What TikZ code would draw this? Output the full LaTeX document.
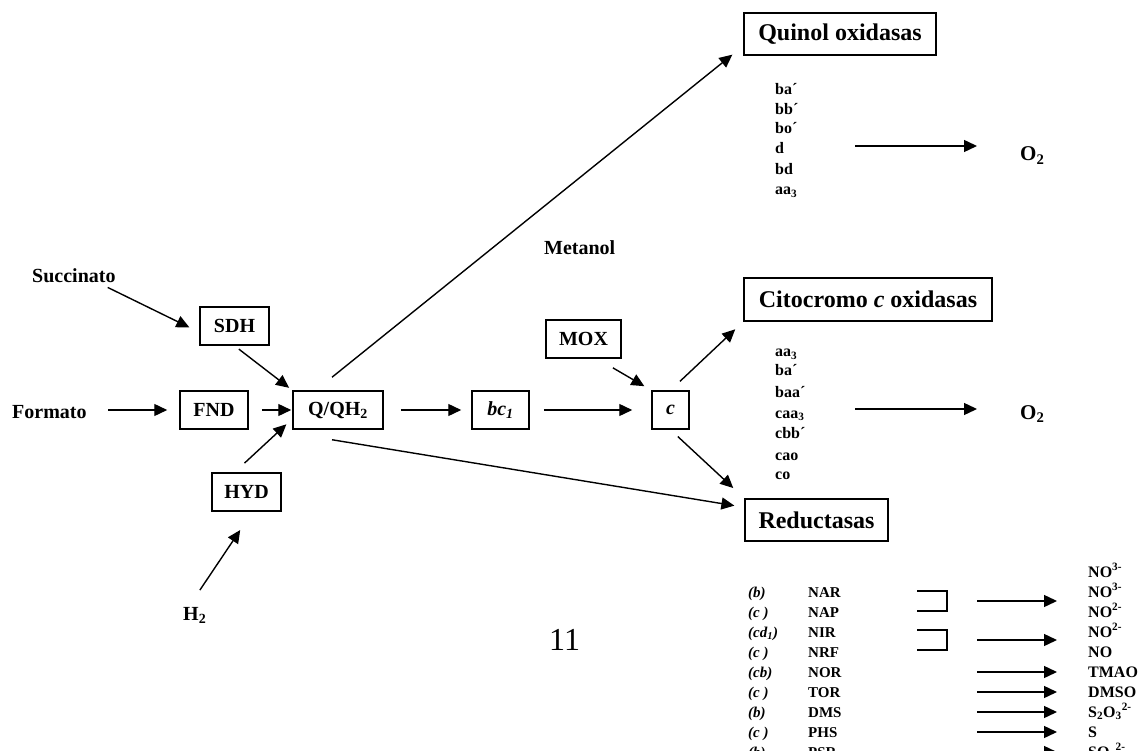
\documentclass[tikz,border=0pt]{standalone}
\usepackage{fontspec}
\setmainfont{Liberation Serif}
\usetikzlibrary{arrows.meta}
\newcommand\fsz[1]{\fontsize{#1}{#1}\selectfont}
\begin{document}
\begin{tikzpicture}[x=1pt,y=-1pt,
  box/.style={draw, line width=1.5pt, inner sep=0pt, minimum height=38pt, font=\fsz{20}\bfseries},
  bigbox/.style={draw, line width=1.5pt, inner sep=0pt, minimum height=42pt, font=\fsz{24}\bfseries},
  lbl/.style={inner sep=0pt, anchor=base west, font=\fsz{20}\bfseries},
  listitem/.style={inner sep=0pt, anchor=base west, font=\fsz{16}\bfseries},
  tleft/.style={inner sep=0pt, anchor=base west, font=\fsz{15}\bfseries\itshape},
  tname/.style={inner sep=0pt, anchor=base west, font=\fsz{15}\bfseries},
  tright/.style={inner sep=0pt, anchor=base west, font=\fsz{16}\bfseries},
  otwo/.style={inner sep=0pt, anchor=base west, font=\fsz{21}\bfseries},
  arr/.style={line width=1.4pt, -{Triangle[length=13pt,width=12pt]}},
  bracket/.style={line width=1.4pt}
  ]
\useasboundingbox (0,0) rectangle (1141,751);

% free labels
\node[lbl] (succ) at (32,283) {Succinato};
\node[lbl] (form) at (12,418) {Formato};
\node[lbl] (h2) at (183,620) {H\textsubscript{2}};
\node[lbl] (meta) at (544,255) {Metanol};
\node[inner sep=0pt, anchor=base west, font=\fsz{32}] (pg) at (549,650) {11};

% boxes
\node[box, minimum width=69pt] (sdh) at (234.5,326) {SDH};
\node[box, minimum width=68pt] (fnd) at (214,410) {FND};
\node[box, minimum width=90pt] (q) at (338,410) {Q/QH\textsubscript{2}};
\node[box, minimum width=69pt] (hyd) at (246.5,492) {HYD};
\node[box, minimum width=75pt] (mox) at (583.5,339) {MOX};
\node[box, minimum width=57pt] (bc1) at (500.5,410) {\textit{bc\textsubscript{1}}};
\node[box, minimum width=37pt] (c) at (670.5,410) {\textit{c}};
\node[bigbox, minimum width=192pt] (quin) at (840,34) {Quinol oxidasas};
\node[bigbox, minimum width=248pt, minimum height=43pt] (cit) at (868,299.5) {Citocromo \textit{c} oxidasas};
\node[bigbox, minimum width=143pt] (red) at (816.5,520) {Reductasas};

% main connectors
\draw[arr, shorten >=11pt] ([shift={(-8pt,-4pt)}]succ.south east) -- (sdh.190);
\draw[arr, shorten <=5.5pt, shorten >=4pt] (sdh.south) -- (q.north west);
\draw[arr, shorten <=21.5pt, shorten >=12pt] (form.east |- fnd.west) -- (fnd.west);
\draw[arr, shorten <=13pt, shorten >=1pt] (fnd.east) -- (q.west);
\draw[arr, shorten <=13.5pt, shorten >=8pt] (hyd.121) -- (q.191);
\draw[arr, shorten <=20pt, shorten >=22pt] ([xshift=-6pt]h2.north) -- ([xshift=6pt]hyd.south);
\draw[arr, shorten <=17pt, shorten >=10pt] (q.east) -- (bc1.west);
\draw[arr, shorten <=14pt, shorten >=19pt] (bc1.east) -- (c.west);
\draw[arr, shorten <=18pt, shorten >=8pt] (mox.-55) -- (c.north west);
\draw[arr, shorten <=13pt, shorten >=11pt] (c.north) -- (cit.south west);
\draw[arr, shorten <=10pt, shorten >=15pt] (c.south) -- (red.north west);
\draw[arr, shorten >=14pt] ([shift={(-6pt,13pt)}]q.north) -- (quin.187);
\draw[arr, shorten >=10pt] ([shift={(-6pt,-10pt)}]q.south) -- (red.170);

% quinol oxidase list
\foreach \t/\yy [count=\i] in {ba´/95, bb´/115, bo´/134, d/154, bd/175, aa\textsubscript{3}/195}
  \node[listitem] (qi\i) at (775,\yy) {\t};
\node[otwo] (o2a) at (1020,161) {O\textsubscript{2}};
\coordinate (qa) at (855,146);
\draw[arr, shorten >=43pt] (qa) -- (qa -| o2a.west);

% cytochrome c oxidase list
\foreach \t/\yy [count=\i] in {aa\textsubscript{3}/357, ba´/376, baa´/398, caa\textsubscript{3}/418, cbb´/438, cao/460, co/479}
  \node[listitem] (ci\i) at (775,\yy) {\t};
\node[otwo] (o2b) at (1020,419) {O\textsubscript{2}};
\coordinate (ca) at (855,409);
\draw[arr, shorten >=43pt] (ca) -- (ca -| o2b.west);

% reductase table
\foreach \l/\n/\yy [count=\i] in {(b)/NAR/597, (c )/NAP/617, (cd\textsubscript{1})/NIR/637, (c )/NRF/657, (cb)/NOR/677, (c )/TOR/697, (b)/DMS/717, (c )/PHS/737, (b)/PSR/757}
{
  \node[tleft] (tl\i) at (748,\yy) {\l};
  \node[tname] (tn\i) at (808,\yy) {\n};
}
\foreach \r/\yy [count=\i] in {NO\textsuperscript{3-}/577, NO\textsuperscript{3-}/597, NO\textsuperscript{2-}/617, NO\textsuperscript{2-}/637, NO/657, TMAO/677, DMSO/697, S\textsubscript{2}O\textsubscript{3}\textsuperscript{2-}/717, S/737, SO\textsubscript{3}\textsuperscript{2-}/757}
  \node[tright] (tr\i) at (1088,\yy) {\r};

\draw[bracket] (917,591) -| (947,611) -- (917,611);
\draw[bracket] (917,630) -| (947,650) -- (917,650);

\foreach \yy [count=\i] in {601, 640, 672, 692, 712, 732, 752}
{
  \coordinate (ts\i) at (977,\yy);
  \coordinate (te\i) at (1057,\yy);
  \draw[arr] (ts\i) -- (te\i);
}
\end{tikzpicture}
\end{document}
